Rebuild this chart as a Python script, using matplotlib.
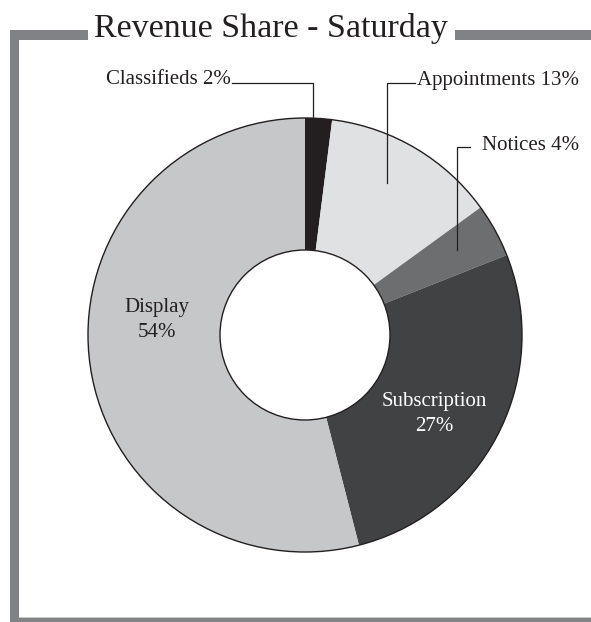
import numpy as np
import matplotlib
matplotlib.use("Agg")
import matplotlib.pyplot as plt
from matplotlib.patches import Circle, Rectangle

plt.rcParams['font.family'] = ['Liberation Serif', 'DejaVu Serif']

title = "Revenue Share - Saturday"
categories = ["Classifieds", "Appointments", "Notices", "Subscription", "Display"]
shares = [2, 13, 4, 27, 54]
colors = ["#231f20", "#e0e1e2", "#6d6e70", "#414244", "#c6c7c8"]

W, H = 591, 622
fig = plt.figure(figsize=(W / 100, H / 100), dpi=100)
ax = fig.add_axes([0, 0, 1, 1])

def Y(ypx):
    return H - ypx

cx, cy = 305, Y(335)
R_out, R_in = 217, 85

wedges, _ = ax.pie(shares, colors=colors, startangle=90, counterclock=False,
                   center=(cx, cy), radius=R_out, frame=True,
                   wedgeprops=dict(edgecolor='none', linewidth=0))
ax.set_xlim(0, W)
ax.set_ylim(0, H)
ax.set_aspect('equal')
ax.axis('off')
ax.add_patch(Circle((cx, cy), R_out, facecolor='none', edgecolor='#231f20', lw=1.0, zorder=3))
ax.add_patch(Circle((cx, cy), R_in, facecolor='white', edgecolor='#231f20', lw=1.0, zorder=3))

# frame
gray = "#808285"
ax.add_patch(Rectangle((10, Y(622)), 9, Y(30) - Y(622), color=gray, lw=0))
ax.add_patch(Rectangle((10, Y(40)), 78, 10, color=gray, lw=0))
ax.add_patch(Rectangle((455, Y(40)), W - 455, 10, color=gray, lw=0))
ax.add_patch(Rectangle((10, Y(622)), W - 10, 5, color=gray, lw=0))
ax.plot([19, W], [Y(616.5), Y(616.5)], color='#d8d8d8', lw=0.6)

ax.text(271, Y(28), title, ha='center', va='center', fontsize=24.5, color='#231f20')

def mid_angle(w):
    return np.deg2rad((w.theta1 + w.theta2) / 2)

lc = '#231f20'
fs = 15
# Classifieds
a = mid_angle(wedges[0])
px = cx + R_out * np.cos(a) - 6
ax.plot([232, px, px], [Y(83), Y(83), cy + R_out * np.sin(a)], color=lc, lw=0.9)
ax.text(231, Y(80), f"{categories[0]} {shares[0]}%", ha='right', va='center', fontsize=fs, color='#231f20')
# Appointments
ax.plot([415, 387, 387], [Y(83), Y(83), Y(183)], color=lc, lw=0.9)
ax.text(417, Y(80), f"{categories[1]} {shares[1]}%", ha='left', va='center', fontsize=fs, color='#231f20')
# Notices
ax.plot([470, 457, 457], [Y(147), Y(147), Y(250)], color=lc, lw=0.9)
ax.text(482, Y(145), f"{categories[2]} {shares[2]}%", ha='left', va='center', fontsize=fs, color='#231f20')

# inner labels
ax.text(434, Y(414), f"{categories[3]}\n{shares[3]}%", ha='center', va='center', fontsize=fs,
        color='white', linespacing=1.45)
ax.text(157, Y(320), f"{categories[4]}\n{shares[4]}%", ha='center', va='center', fontsize=fs,
        color='#231f20', linespacing=1.45)

fig.savefig("out.png", dpi=100)
